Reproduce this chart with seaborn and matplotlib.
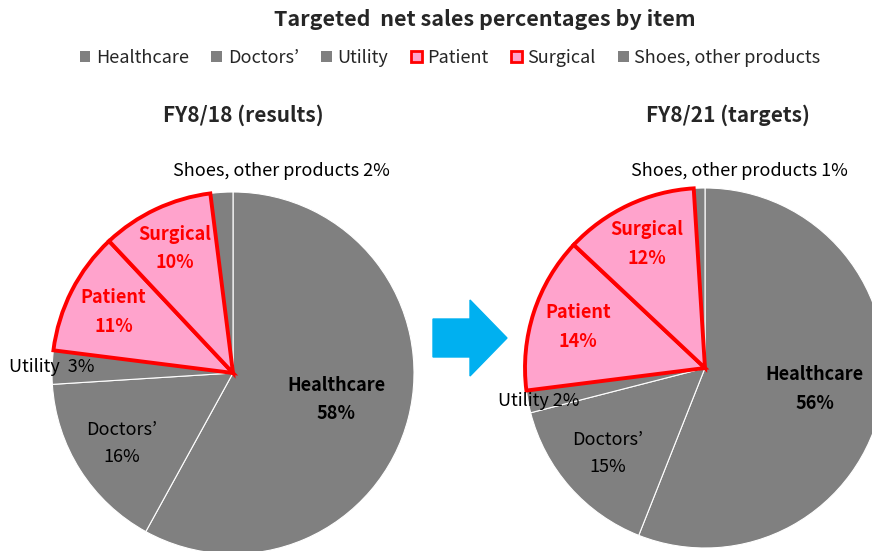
import numpy as np
import matplotlib
matplotlib.use("Agg")
import matplotlib.pyplot as plt
from matplotlib.patches import Patch, Polygon
import seaborn as sns

sns.set_theme(style="white")
plt.rcParams['font.family'] = ['Noto Sans CJK JP', 'DejaVu Sans']

# data
items = ["Healthcare", "Doctors\u2019", "Utility", "Patient", "Surgical", "Shoes, other products"]
share_fy18 = [58, 16, 3, 11, 10, 2]
share_fy21 = [56, 15, 2, 14, 12, 1]
highlight = [False, False, False, True, True, False]

grey = "#808080"
pink = "#FFA3CC"
red = "#FF0000"
arrow_blue = "#00B0F0"

W, H = 872, 551
fig = plt.figure(figsize=(W / 100, H / 100), dpi=100)


def px_axes(cx, cy, r):
    # square axes in pixel units (top-left origin) centred on the pie
    return fig.add_axes([(cx - r) / W, (H - cy - r) / H, 2 * r / W, 2 * r / H])


def draw_pie(ax, shares, label_pos, sep):
    colors = [pink if h else grey for h in highlight]
    wedges, _ = ax.pie(shares, colors=colors, startangle=90, counterclock=False,
                       radius=1, wedgeprops=dict(edgecolor="white", linewidth=0.8))
    # red outlines on top
    for w, h in zip(wedges, highlight):
        if h:
            w.set_edgecolor(red)
            w.set_linewidth(2.8)
            w.set_zorder(3)
    total = sum(shares)
    cum = 0
    for i, (name, v) in enumerate(zip(items, shares)):
        mid = np.deg2rad(90 - (cum + v / 2) / total * 360)
        cum += v
        dist, dx, dy, style = label_pos[i]
        x = dist * np.cos(mid) + dx
        y = dist * np.sin(mid) + dy
        if style == "inline":
            txt = f"{name}{sep[i]}{v}%"
        else:
            txt = f"{name}\n{v}%"
        color = red if highlight[i] else "black"
        weight = "bold" if (highlight[i] or i == 0) else "normal"
        ax.text(x, y, txt, ha="center", va="center", fontsize=13, color=color,
                fontweight=weight, linespacing=1.65, zorder=5)
    ax.set_xlim(-1, 1)
    ax.set_ylim(-1, 1)
    ax.axis("off")


ax1 = px_axes(233, 373, 181)
draw_pie(ax1, share_fy18, [
    (0.59, 0, 0, "stack"),
    (0.73, 0, 0, "stack"),
    (1.0, 0, 0, "inline"),
    (0.74, 0, 0, "stack"),
    (0.76, 0, 0, "stack"),
    (1.0, 0.33, 0.12, "inline"),
], ["", "", "  ", "", "", " "])

ax2 = px_axes(705, 368, 180)
draw_pie(ax2, share_fy21, [
    (0.62, 0, 0, "stack"),
    (0.72, 0, 0, "stack"),
    (0.98, 0.04, 0, "inline"),
    (0.74, 0, 0, "stack"),
    (0.76, 0, 0, "stack"),
    (1.0, 0.225, 0.095, "inline"),
], ["", "", " ", "", "", " "])

# overlay for titles and arrow (pixel coordinates)
ov = fig.add_axes([0, 0, 1, 1], zorder=-1)
ov.set_xlim(0, W)
ov.set_ylim(H, 0)
ov.axis("off")
ov.add_patch(Polygon([(433, 319), (470, 319), (470, 300), (507, 338), (470, 376),
                      (470, 357), (433, 357)], closed=True, color=arrow_blue))

fig.text(485 / W, 1 - 19 / H, "Targeted  net sales percentages by item", ha="center",
         va="center", fontsize=15.5, fontweight="bold")
fig.text(243 / W, 1 - 115 / H, "FY8/18 (results)", ha="center", va="center",
         fontsize=15, fontweight="bold")
fig.text(728 / W, 1 - 115 / H, "FY8/21 (targets)", ha="center", va="center",
         fontsize=15, fontweight="bold")

handles = [Patch(facecolor=pink if h else grey, edgecolor=red if h else grey,
                 linewidth=2 if h else 0) for h in highlight]
fig.legend(handles, items, loc="center", bbox_to_anchor=(450 / W, 1 - 58 / H),
           ncol=6, frameon=False, fontsize=13, handlelength=0.6, handleheight=0.6,
           handletextpad=0.3, columnspacing=1.25)

fig.savefig("out.png", dpi=100)
